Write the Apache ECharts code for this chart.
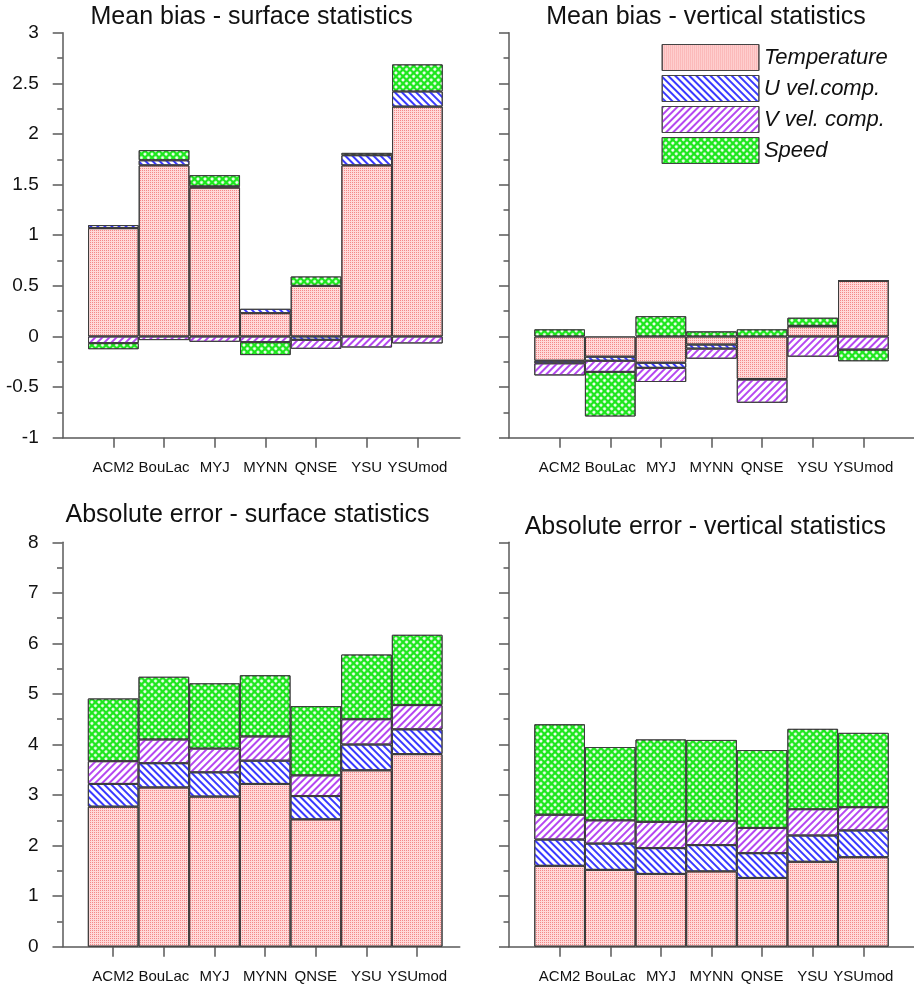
<!DOCTYPE html>
<html>
<head>
<meta charset="utf-8">
<script src="https://cdn.jsdelivr.net/npm/echarts@6/dist/echarts.min.js"></script>
<style>
  html, body { margin: 0; padding: 0; background: #fff; }
  #chart { width: 914px; height: 988px; }
</style>
</head>
<body>
<div id="chart"></div>
<script>
// PBL schemes compared in every panel
const models = ['ACM2', 'BouLac', 'MYJ', 'MYNN', 'QNSE', 'YSU', 'YSUmod'];
const variables = ['Temperature', 'U vel.comp.', 'V vel. comp.', 'Speed'];

// Mean bias, surface statistics
const biasSurfT = [1.07, 1.69, 1.47, 0.23, 0.50, 1.69, 2.27];
const biasSurfU = [0.03, 0.05, 0.013, 0.043, -0.033, 0.10, 0.15];
const biasSurfV = [-0.066, -0.036, -0.053, -0.056, -0.089, -0.109, -0.069];
const biasSurfS = [-0.06, 0.10, 0.11, -0.128, 0.092, 0.023, 0.267];

// Mean bias, vertical statistics
const biasVertT = [-0.24, -0.20, -0.26, -0.08, -0.42, 0.10, 0.55];
const biasVertU = [-0.025, -0.04, -0.05, -0.04, -0.005, 0.005, 0];
const biasVertV = [-0.12, -0.11, -0.14, -0.10, -0.23, -0.20, -0.13];
const biasVertS = [0.07, -0.44, 0.20, 0.05, 0.07, 0.08, -0.115];

// Absolute error, surface statistics
const absSurfT = [2.77, 3.15, 2.97, 3.22, 2.52, 3.49, 3.81];
const absSurfU = [0.45, 0.48, 0.48, 0.46, 0.46, 0.51, 0.49];
const absSurfV = [0.45, 0.47, 0.47, 0.48, 0.41, 0.50, 0.48];
const absSurfS = [1.24, 1.24, 1.29, 1.21, 1.37, 1.28, 1.39];

// Absolute error, vertical statistics
const absVertT = [1.60, 1.52, 1.44, 1.49, 1.36, 1.68, 1.77];
const absVertU = [0.52, 0.52, 0.51, 0.52, 0.49, 0.52, 0.53];
const absVertV = [0.49, 0.46, 0.52, 0.48, 0.50, 0.52, 0.46];
const absVertS = [1.79, 1.45, 1.63, 1.60, 1.54, 1.59, 1.47];

const panelTitles = [
  'Mean bias - surface statistics',
  'Mean bias - vertical statistics',
  'Absolute error - surface statistics',
  'Absolute error - vertical statistics'
];
const panelData = [
  [biasSurfT, biasSurfU, biasSurfV, biasSurfS],
  [biasVertT, biasVertU, biasVertV, biasVertS],
  [absSurfT, absSurfU, absSurfV, absSurfS],
  [absVertT, absVertU, absVertV, absVertS]
];

const FONT = '"Liberation Sans", Arial, sans-serif';
const UNIT = 50.67;          // pixels per model slot on the x axis
const AXIS_COLOR = '#5a5a5a';

// panel frames: left edge of the y axis, top, plot height, x-axis span in slots
const frames = [
  { left: 62.7, top: 32.7, height: 405, span: 7.84, yMin: -1, yMax: 3, yStep: 0.5, labels: true },
  { left: 509,  top: 32.7, height: 405, span: 8.0,  yMin: -1, yMax: 3, yStep: 0.5, labels: false },
  { left: 62.5, top: 542.3, height: 404.4, span: 7.84, yMin: 0, yMax: 8, yStep: 1, labels: true },
  { left: 509,  top: 542.3, height: 404.4, span: 8.0,  yMin: 0, yMax: 8, yStep: 1, labels: false }
];
const titlePos = [[251.7, 17.2], [706, 17.5], [247.5, 515.5], [705.3, 527.5]];

// fill patterns for the four variables
const styles = [
  { color: '#ffd9d9', decal: { symbol: 'rect', symbolSize: 1, color: 'rgba(235,70,70,0.55)', dashArrayX: [1, 1], dashArrayY: [1, 1], rotation: 0 } },
  { color: '#ffffff', decal: { symbol: 'rect', symbolSize: 1, color: '#3a3aff', dashArrayX: [1, 0], dashArrayY: [1.4, 3], rotation: Math.PI / 4 } },
  { color: '#ffffff', decal: { symbol: 'rect', symbolSize: 1, color: '#b548f0', dashArrayX: [1, 0], dashArrayY: [1.4, 3], rotation: -Math.PI / 4 } },
  { color: '#1ee61e', decal: { symbol: 'circle', symbolSize: 1, color: '#ffffff', dashArrayX: [3, 1.5], dashArrayY: [3, 1.5], rotation: Math.PI / 4 } }
];

const slots = models.map((m, i) => i + 1);

const grids = frames.map(f => ({
  left: f.left, top: f.top, width: f.span * UNIT, height: f.height, containLabel: false
}));

const xAxes = frames.map((f, p) => ({
  type: 'value', gridIndex: p, min: 0, max: f.span,
  axisLine: { show: true, onZero: false, lineStyle: { color: AXIS_COLOR, width: 1.5 } },
  axisTick: { show: true, customValues: slots, length: 10, lineStyle: { color: AXIS_COLOR, width: 1.5 } },
  axisLabel: {
    show: true, customValues: slots, margin: 23,
    formatter: v => models[Math.round(v) - 1] || '',
    color: '#111', fontSize: 15, fontFamily: FONT
  },
  splitLine: { show: false }
}));

const yAxes = frames.map((f, p) => ({
  type: 'value', gridIndex: p, min: f.yMin, max: f.yMax, interval: f.yStep,
  axisLine: { show: true, lineStyle: { color: AXIS_COLOR, width: 1.5 } },
  axisTick: { show: true, length: 10, lineStyle: { color: AXIS_COLOR, width: 1.5 } },
  minorTick: { show: true, splitNumber: 2, length: 5.5, lineStyle: { color: AXIS_COLOR, width: 1.5 } },
  axisLabel: { show: f.labels, margin: 24, color: '#111', fontSize: 19, fontFamily: FONT },
  splitLine: { show: false }
}));

// value first, slot second: the value column is the one that gets stacked
const series = [];
panelData.forEach((vals, p) => {
  vals.forEach((arr, k) => {
    series.push({
      type: 'bar',
      name: variables[k],
      xAxisIndex: p,
      yAxisIndex: p,
      stack: 'panel' + p,
      stackStrategy: 'samesign',
      barWidth: UNIT,
      silent: true,
      encode: { x: 1, y: 0 },
      itemStyle: {
        color: styles[k].color,
        borderColor: '#3c3c3c',
        borderWidth: 1,
        decal: styles[k].decal
      },
      data: arr.map((v, i) => [v, slots[i]])
    });
  });
});

const titles = panelTitles.map((t, p) => ({
  type: 'text',
  x: titlePos[p][0],
  y: titlePos[p][1],
  style: {
    text: t,
    font: '25px ' + FONT,
    fill: '#111',
    textAlign: 'center',
    textVerticalAlign: 'middle',
    align: 'center',
    verticalAlign: 'middle'
  }
}));

const chart = echarts.init(document.getElementById('chart'), null, { renderer: 'canvas' });
chart.setOption({
  animation: false,
  backgroundColor: '#ffffff',
  grid: grids,
  xAxis: xAxes,
  yAxis: yAxes,
  legend: {
    data: variables,
    orient: 'vertical',
    left: 661.7,
    top: 44,
    padding: 0,
    itemWidth: 96.7,
    itemHeight: 26,
    itemGap: 4,
    icon: 'rect',
    itemStyle: { borderColor: '#444', borderWidth: 1 },
    textStyle: { fontSize: 22, fontStyle: 'italic', color: '#111', fontFamily: FONT },
    selectedMode: false
  },
  graphic: titles,
  series: series
});
</script>
</body>
</html>
